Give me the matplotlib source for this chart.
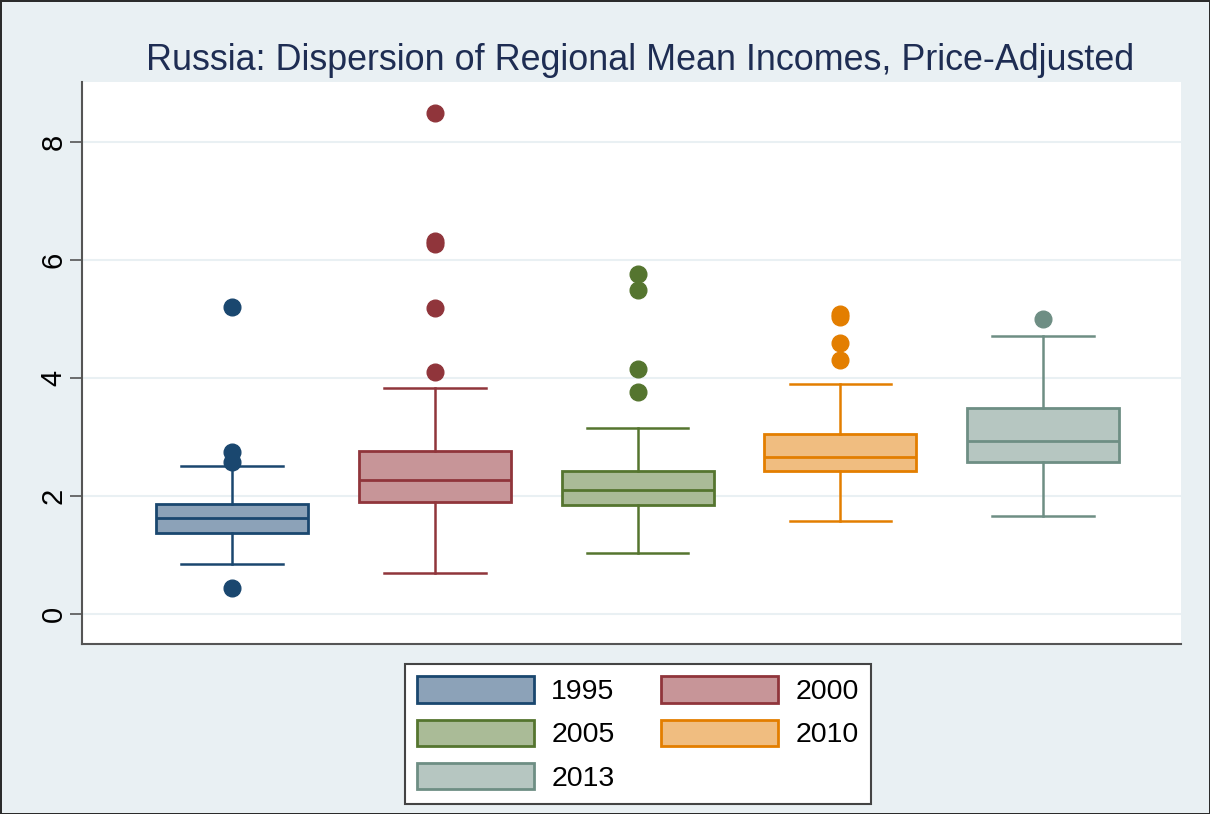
import matplotlib.pyplot as plt
from matplotlib.patches import Patch

# Values
years = ["1995", "2000", "2005", "2010", "2013"]
medians = [1.63, 2.27, 2.10, 2.66, 2.93]
q1 = [1.37, 1.90, 1.85, 2.43, 2.58]
q3 = [1.86, 2.77, 2.43, 3.05, 3.49]
whisk_lo = [0.85, 0.70, 1.03, 1.58, 1.66]
whisk_hi = [2.51, 3.83, 3.15, 3.90, 4.71]
outliers = [
    [5.20, 2.75, 2.58, 0.44],
    [8.49, 6.33, 6.27, 5.18, 4.10],
    [5.76, 5.49, 4.15, 3.76],
    [5.08, 5.03, 4.59, 4.31],
    [5.00],
]

edge_colors = ["#1a476f", "#90353b", "#55752f", "#e37e00", "#6e8e84"]
fill_colors = ["#8ca2b8", "#c79598", "#aabb97", "#f0bd80", "#b6c6c1"]

plt.rcParams['font.family'] = ['Liberation Sans', 'DejaVu Sans']

fig = plt.figure(figsize=(12.1, 8.14), dpi=100)
fig.patch.set_facecolor('#e9f0f3')
fig.patch.set_edgecolor('#2b2b2b')
fig.patch.set_linewidth(2)

ax = fig.add_axes([0.0678, 0.2088, 0.9082, 0.6905])
ax.set_facecolor('white')

for i in range(len(years)):
    stats = [{
        'med': medians[i], 'q1': q1[i], 'q3': q3[i],
        'whislo': whisk_lo[i], 'whishi': whisk_hi[i],
        'fliers': outliers[i],
    }]
    c = edge_colors[i]
    ax.bxp(stats, positions=[i], widths=0.75, capwidths=0.5,
           patch_artist=True,
           boxprops=dict(facecolor=fill_colors[i], edgecolor=c, linewidth=2),
           medianprops=dict(color=c, linewidth=2),
           whiskerprops=dict(color=c, linewidth=1.8),
           capprops=dict(color=c, linewidth=1.8),
           flierprops=dict(marker='o', markerfacecolor=c, markeredgecolor=c,
                           markersize=12, linestyle='none'),
           zorder=3)

ax.set_xlim(-0.74, 4.68)
ax.set_ylim(-0.51, 9.02)
ax.set_yticks([0, 2, 4, 6, 8])
ax.set_xticks([])
ax.tick_params(axis='y', labelsize=21, length=9, width=1.2, color='#555555',
               labelcolor='black', pad=1.5)
for lab in ax.get_yticklabels():
    lab.set_rotation(90)
    lab.set_va('center')
ax.grid(axis='y', color='#e9f0f3', linewidth=1.5, zorder=0)
ax.set_axisbelow(True)
for side in ['top', 'right']:
    ax.spines[side].set_visible(False)
for side in ['left', 'bottom']:
    ax.spines[side].set_color('#555555')
    ax.spines[side].set_linewidth(1.5)

fig.text(640 / 1210, 1 - 60 / 814,
         "Russia: Dispersion of Regional Mean Incomes, Price-Adjusted",
         ha='center', va='center', fontsize=25.8, color='#1e2d53')

# legend filled row-wise: 1995 2000 / 2005 2010 / 2013
order = [0, 2, 4, 1, 3]
handles = [Patch(facecolor=fill_colors[i], edgecolor=edge_colors[i], linewidth=2)
           for i in order]
labels = [years[i] for i in order]
leg = fig.legend(handles, labels, ncol=2, loc='center',
                 bbox_to_anchor=(638 / 1210, 1 - 734 / 814),
                 fontsize=20.5, handlelength=4.1, handleheight=1.05,
                 handletextpad=0.6, columnspacing=1.65, labelspacing=0.5,
                 borderpad=0.45, fancybox=False, framealpha=1)
leg.get_frame().set_edgecolor('#444444')
leg.get_frame().set_linewidth(1.5)

fig.savefig("out.png", dpi=100, facecolor=fig.get_facecolor(),
            edgecolor=fig.get_edgecolor())
